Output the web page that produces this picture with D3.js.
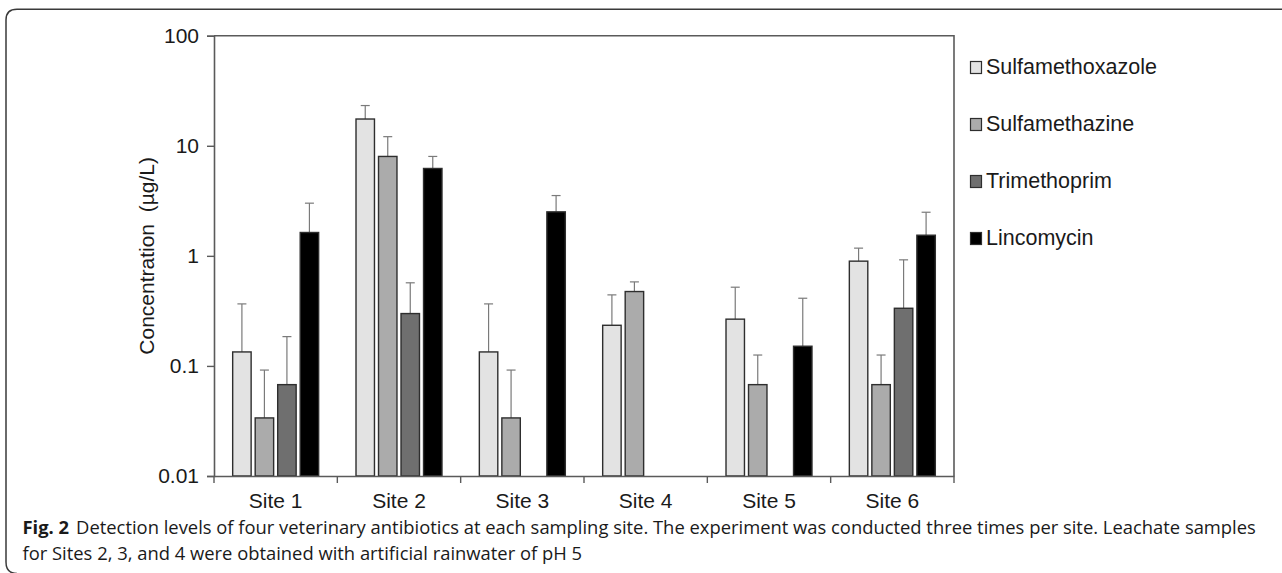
<!DOCTYPE html>
<html>
    <head>
        <title>Antibiotic concentrations by site</title>
        <meta charset="UTF-8">
        <script src="https://d3js.org/d3.v7.min.js"></script>
        <style>
            body { margin:0; background:#fff; }
            svg text { font-family:"Liberation Sans", Arial, sans-serif; fill:#1a1a1a; }
            .caption text { font-family:"Open Sans", "Noto Sans", sans-serif; }
        </style>
    </head>
    <body>
        <script>
            // data (log scale, ug/L); err = upper error bar length
            var sites = ["Site 1","Site 2","Site 3","Site 4","Site 5","Site 6"];
            var seriesNames = ["Sulfamethoxazole","Sulfamethazine","Trimethoprim","Lincomycin"];
            var sulfamethoxazole    = [0.134, 17.5, 0.134, 0.234, 0.266, 0.895];
            var sulfamethoxazoleErr = [0.232, 5.7, 0.232, 0.208, 0.253, 0.28];
            var sulfamethazine      = [0.0337, 8.0, 0.0337, 0.474, 0.0676, 0.0676];
            var sulfamethazineErr   = [0.058, 4.1, 0.058, 0.106, 0.058, 0.058];
            var trimethoprim        = [0.0676, 0.299, null, null, null, 0.334];
            var trimethoprimErr     = [0.117, 0.27, null, null, null, 0.586];
            var lincomycin          = [1.63, 6.22, 2.51, null, 0.151, 1.54];
            var lincomycinErr       = [1.38, 1.78, 1.02, null, 0.261, 0.95];
            var yTicks = [0.01, 0.1, 1, 10, 100];
            var yTickLabels = ["0.01","0.1","1","10","100"];
            var yTitle = "Concentration  (\u00b5g/L)";
            var captionBold = "Fig. 2";
            var captionLine1 = "Detection levels of four veterinary antibiotics at each sampling site. The experiment was conducted three times per site. Leachate samples";
            var captionLine2 = "for Sites 2, 3, and 4 were obtained with artificial rainwater of pH 5";

            var values = [sulfamethoxazole, sulfamethazine, trimethoprim, lincomycin];
            var errs = [sulfamethoxazoleErr, sulfamethazineErr, trimethoprimErr, lincomycinErr];
            var fills = ["#e3e3e3","#ababab","#6f6f6f","#000000"];

            var W = 1282, H = 573;
            var mLeft = 214, mTop = 35.7, w = 740, h = 440.3;

            var svg = d3.select("body").append("svg")
                    .attr("width", W).attr("height", H);

            // outer figure frame (only left/top visible)
            svg.append("path")
                    .attr("d", "M17,573.5 Q6,573.5 6,562 L6,20 Q6,9.3 17,9.3 L1282,9.3")
                    .attr("fill","none").attr("stroke","#3a3a3a").attr("stroke-width",1.5);

            var g = svg.append("g").attr("transform","translate("+mLeft+","+mTop+")");

            var x0 = d3.scaleBand().domain(sites).range([0,w])
                    .paddingInner(0.27).paddingOuter(0.135);
            var x1 = d3.scaleBand().domain(d3.range(seriesNames.length)).range([0,x0.bandwidth()])
                    .paddingInner(0.18).paddingOuter(0.09);
            var y = d3.scaleLog().domain([0.01,100]).range([h,0]);

            var rows = [];
            sites.forEach(function(s,i){
                values.forEach(function(arr,k){
                    if(arr[i] != null) rows.push({site:s, k:k, v:arr[i], e:errs[k][i]});
                });
            });

            // error bars (upper only)
            var eb = g.selectAll("g.err").data(rows).enter().append("g").attr("class","err")
                    .attr("stroke","#7a7a7a").attr("stroke-width",1.2);
            eb.append("line")
                    .attr("x1",function(d){return x0(d.site)+x1(d.k)+x1.bandwidth()/2;})
                    .attr("x2",function(d){return x0(d.site)+x1(d.k)+x1.bandwidth()/2;})
                    .attr("y1",function(d){return y(d.v);})
                    .attr("y2",function(d){return y(d.v+d.e);});
            eb.append("line")
                    .attr("x1",function(d){return x0(d.site)+x1(d.k)+x1.bandwidth()/2-4.5;})
                    .attr("x2",function(d){return x0(d.site)+x1(d.k)+x1.bandwidth()/2+4.5;})
                    .attr("y1",function(d){return y(d.v+d.e);})
                    .attr("y2",function(d){return y(d.v+d.e);});

            g.selectAll("rect.bar").data(rows).enter().append("rect").attr("class","bar")
                    .attr("x",function(d){return x0(d.site)+x1(d.k);})
                    .attr("width",x1.bandwidth())
                    .attr("y",function(d){return y(d.v);})
                    .attr("height",function(d){return h-y(d.v);})
                    .attr("fill",function(d){return fills[d.k];})
                    .attr("stroke","#2e2e2e").attr("stroke-width",1.4);

            // plot frame
            g.append("path")
                    .attr("d","M0,0H"+w+"V"+h)
                    .attr("fill","none").attr("stroke","#5a5a5a").attr("stroke-width",1.6);

            var yAxis = d3.axisLeft(y).tickValues(yTicks)
                    .tickFormat(function(d,i){return yTickLabels[i];})
                    .tickSize(7).tickPadding(8);
            var ya = g.append("g").call(yAxis);
            ya.select(".domain").attr("stroke","#5a5a5a").attr("stroke-width",1.6);
            ya.selectAll(".tick line").attr("stroke","#5a5a5a").attr("stroke-width",1.4);
            ya.selectAll("text").attr("font-size",21).style("font-family","Liberation Sans, Arial, sans-serif").attr("fill","#1a1a1a");

            var xAxis = d3.axisBottom(x0).tickSize(0).tickPadding(17);
            var xa = g.append("g").attr("transform","translate(0,"+h+")").call(xAxis);
            xa.select(".domain").attr("stroke","#5a5a5a").attr("stroke-width",1.6);
            xa.selectAll("text").attr("font-size",21).style("font-family","Liberation Sans, Arial, sans-serif").attr("fill","#1a1a1a");
            // boundary ticks between sites
            var bounds = sites.map(function(s){return x0(s)-x0.step()*x0.paddingInner()/2;}).concat([w]);
            xa.selectAll("line.bt").data(bounds).enter().append("line").attr("class","bt")
                    .attr("x1",function(d){return d;}).attr("x2",function(d){return d;})
                    .attr("y1",0).attr("y2",7)
                    .attr("stroke","#5a5a5a").attr("stroke-width",1.4);

            svg.append("text")
                    .attr("transform","translate(154,"+(mTop+h/2)+") rotate(-90)")
                    .attr("text-anchor","middle")
                    .attr("font-size",21)
                    .style("white-space","pre")
                    .text(yTitle);

            // legend
            var lg = svg.selectAll("g.leg").data(seriesNames).enter().append("g").attr("class","leg")
                    .attr("transform",function(d,i){return "translate(970,"+(74+57*i)+")";});
            lg.append("rect").attr("x",0.5).attr("y",-12.5).attr("width",11).attr("height",12)
                    .attr("fill",function(d,i){return fills[i];})
                    .attr("stroke","#2e2e2e").attr("stroke-width",1.2);
            lg.append("text").attr("x",16).attr("y",0).attr("font-size",21.5).text(function(d){return d;});

            // caption
            var cap = svg.append("g").attr("class","caption");
            var t1 = cap.append("text").attr("x",22.5).attr("y",534.3).attr("font-size",19).attr("fill","#1a1a1a");
            t1.append("tspan").attr("font-weight","bold").text(captionBold);
            t1.append("tspan").attr("dx",7).text(captionLine1);
            var natural = t1.node().getComputedTextLength();
            var fs = 19*1227/natural;
            t1.attr("font-size",fs);
            cap.append("text").attr("x",22.5).attr("y",560).attr("font-size",fs).attr("fill","#1a1a1a").text(captionLine2);
        </script>
    </body>
</html>
